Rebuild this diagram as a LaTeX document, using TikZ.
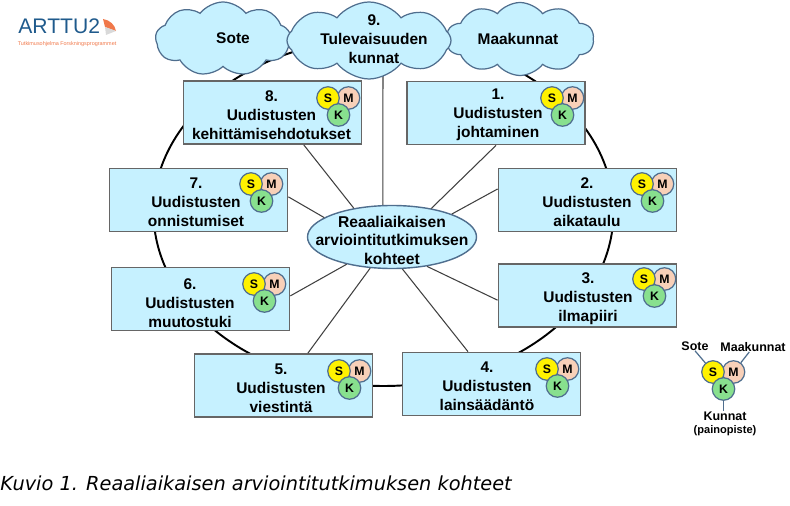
\documentclass[tikz,border=0pt]{standalone}
\usepackage{fontspec}
\setmainfont{Liberation Sans}
\newfontfamily\kuviofont{DejaVu Sans}
\usetikzlibrary{shapes.geometric,shapes.symbols}
\definecolor{vaalea}{HTML}{C6F1FF}
\definecolor{reuna}{HTML}{4F6E8E}
\definecolor{logosin}{HTML}{1F5A8C}
\definecolor{logopun}{HTML}{F0784A}
\definecolor{persikka}{HTML}{F8D0B8}
\definecolor{vihrea}{HTML}{88E08E}
\tikzset{
  kohde/.style={draw=black!60, line width=1pt, fill=vaalea, minimum width=3.56cm, minimum height=1.26cm, inner sep=0pt},
  pilvi/.style={cloud, cloud puffs=10, cloud puff arc=105, draw=reuna, line width=0.7pt, fill=vaalea, inner sep=0pt},
  teksti/.style={align=center, inner sep=0pt, font=\fontsize{8.8}{10.8}\selectfont\bfseries},
  pinna/.style={circle, draw=reuna, line width=0.7pt, minimum size=0.45cm, inner sep=0pt, font=\fontsize{7}{8}\selectfont\bfseries},
  pinnat/.pic={
    \node[pinna, fill=persikka] (-m) at (0.41,0) {M};
    \node[pinna, fill=yellow] (-s) at (0,0) {S};
    \node[pinna, fill=vihrea] (-k) at (0.21,-0.34) {K};
  },
  selite/.style={inner sep=0pt, font=\fontsize{7.1}{8}\selectfont\bfseries}
}
\begin{document}
\begin{tikzpicture}
\useasboundingbox (0,0) rectangle (15.8,10.1);

\draw[line width=1.1pt] (7.67,5.86) ellipse (4.6 and 3.48);
%Kehä

\node[ellipse, draw=reuna, line width=0.8pt, fill=vaalea, minimum width=3.38cm, minimum height=1.26cm, inner sep=0pt] (kohteet) at (7.84,5.36) {};
\node[teksti, font=\fontsize{8.9}{10.5}\selectfont\bfseries] (kohteett) at (7.84,5.30) {Reaaliaikaisen\\arviointitutkimuksen\\kohteet};

\coordinate (ylapiste) at (7.66,8.9);
\draw[black!75, line width=0.6pt] (kohteet.106) -- (ylapiste);

\node[pilvi, cloud puffs=9, shape border rotate=20, minimum width=2.7cm, minimum height=1.48cm] (sote) at (4.46,9.32) {};
\node[pilvi, minimum width=2.95cm, minimum height=1.46cm] (maakunnat) at (10.40,9.32) {};
\node[pilvi, cloud puffs=8, shape border rotate=22.5, minimum width=3.28cm, minimum height=1.54cm] (tulevaisuus) at (7.38,9.29) {};
\node[teksti] (sotet) at (4.66,9.33) {Sote};
\node[teksti] (maakunnatt) at (10.36,9.33) {Maakunnat};
\node[teksti] (tulevaisuust) at (7.48,9.32) {9.\\Tulevaisuuden\\kunnat};
%Pilvet

\node[kohde] (k8) at (5.45,7.85) {};
\node[kohde] (k1) at (9.92,7.84) {};
\node[kohde] (k2) at (11.75,6.10) {};
\node[kohde] (k3) at (11.75,4.19) {};
\node[kohde] (k4) at (9.83,2.42) {};
\node[kohde] (k5) at (5.67,2.39) {};
\node[kohde] (k6) at (4.01,4.12) {};
\node[kohde] (k7) at (3.97,6.10) {};
%Laatikot

\node[teksti] (t8) at (5.43,7.79) {8.\\Uudistusten\\kehittämisehdotukset};
\node[teksti] (t1) at (9.96,7.81) {1.\\Uudistusten\\johtaminen};
\node[teksti] (t2) at (11.74,6.05) {2.\\Uudistusten\\aikataulu};
\node[teksti] (t3) at (11.76,4.13) {3.\\Uudistusten\\ilmapiiri};
\node[teksti] (t4) at (9.74,2.37) {4.\\Uudistusten\\lainsäädäntö};
\node[teksti] (t5) at (5.62,2.33) {5.\\Uudistusten\\viestintä};
\node[teksti] (t6) at (3.80,4.03) {6.\\Uudistusten\\muutostuki};
\node[teksti] (t7) at (3.92,6.05) {7.\\Uudistusten\\onnistumiset};
%Tekstit

\draw[black!75, line width=0.6pt] (kohteet.143) -- (k8.-46);
\draw[black!75, line width=0.6pt] (kohteet.36) -- (k1.south);
\draw[black!75, line width=0.6pt] (kohteet.21) -- (k2.173);
\draw[black!75, line width=0.6pt] (kohteet.-40) -- (k3.183);
\draw[black!75, line width=0.6pt] (kohteet.-72) -- (k4.126);
\draw[black!75, line width=0.6pt] (kohteet.235) -- (k5.53);
\draw[black!75, line width=0.6pt] (kohteet.211) -- (k6.2);
\draw[black!75, line width=0.6pt] (kohteet.164) -- (k7.2);
%Pinnat

\pic (p8) at (6.56,8.14) {pinnat};
\pic (p1) at (11.04,8.14) {pinnat};
\pic (p2) at (12.84,6.42) {pinnat};
\pic (p3) at (12.88,4.52) {pinnat};
\pic (p4) at (10.94,2.72) {pinnat};
\pic (p5) at (6.78,2.68) {pinnat};
\pic (p6) at (5.08,4.42) {pinnat};
\pic (p7) at (5.02,6.42) {pinnat};
%Selite

\pic (sel) at (14.26,2.66) {pinnat};
\node[selite] (selsote) at (13.9,3.18) {Sote};
\node[selite] (selmaak) at (15.06,3.16) {Maakunnat};
\node[selite] (selkunnat) at (14.5,1.78) {Kunnat};
\node[selite, font=\fontsize{6.3}{8}\selectfont\bfseries] (selpaino) at (14.5,1.48) {(painopiste)};
\draw[reuna, line width=0.7pt] (selsote.south) -- (sel-s);
\draw[reuna, line width=0.7pt] (selmaak.-127) -- (sel-m);
\draw[reuna, line width=0.7pt] (sel-k) -- (selkunnat.north -| sel-k);

\node[anchor=west, inner sep=0pt, text=logosin, font=\fontsize{12}{14}\selectfont] (logo) at (0.36,9.57) {ARTTU2};
\node[anchor=west, inner sep=0pt, text=logopun, font=\fontsize{3.1}{4}\selectfont] (logoala) at (0.35,9.22) {Tutkimusohjelma Forskningsprogrammet};
\fill[logopun] (2.06,9.72) .. controls (2.2,9.7) and (2.3,9.6) .. (2.32,9.48) -- (2.1,9.56) -- cycle;
\fill[black!15] (2.1,9.56) -- (2.32,9.48) -- (2.12,9.40) -- cycle;
%Logo

\node[anchor=west, inner sep=0pt, text=black, font=\kuviofont\fontsize{11}{13}\selectfont\itshape] (kuvio) at (0,0.44) {Kuvio 1. Reaaliaikaisen arviointitutkimuksen kohteet};
\end{tikzpicture}
\end{document}
